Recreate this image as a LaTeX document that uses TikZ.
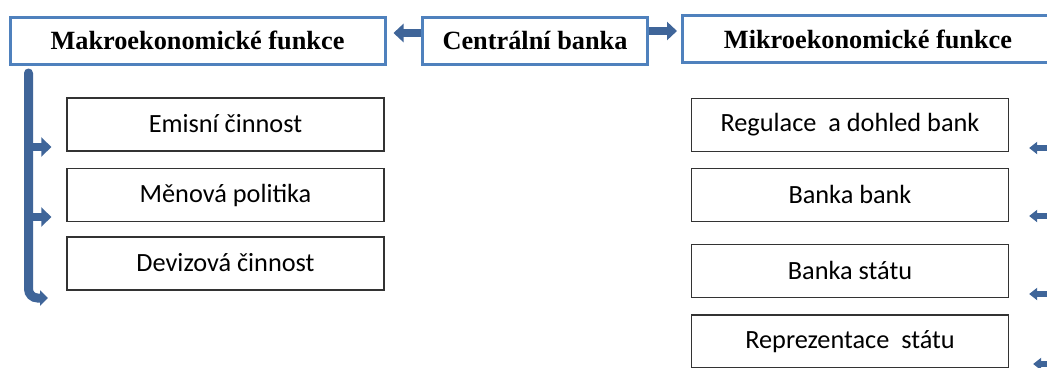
\documentclass[tikz,border=0pt]{standalone}
\usepackage{fontspec}
\setmainfont{Liberation Serif}
\newfontfamily\bodyfont{Carlito}
\usetikzlibrary{arrows.meta}
\definecolor{hdrblue}{HTML}{4F81BD}
\definecolor{arrblue}{HTML}{3F6599}
\tikzset{
  hdrbox/.style={draw=hdrblue, line width=3pt, fill=white, minimum height=47pt,
    font=\fontsize{26.3}{30}\selectfont\bfseries, inner sep=0pt},
  itembox/.style={draw=black!80, line width=1.3pt, fill=white, minimum width=317pt,
    minimum height=53pt, font=\bodyfont\fontsize{26.3}{30}\selectfont, inner sep=0pt},
  toparrow/.style={draw=arrblue, line width=8pt, -{Triangle[length=10pt, width=18pt]}},
  bararrow/.style={draw=arrblue, line width=9pt, line cap=round, rounded corners=9pt,
    -{Triangle[length=8pt, width=15pt]}},
  branch/.style={draw=arrblue, line width=8pt, -{Triangle[length=10pt, width=19pt]}},
  rarrow/.style={draw=arrblue, line width=6pt, -{Triangle[length=8pt, width=12pt]}}
}
\begin{document}
\begin{tikzpicture}[x=1pt, y=-1pt]
\useasboundingbox (0,0) rectangle (1047,367);
\clip (0,0) rectangle (1047,367);
\fill[white] (0,0) rectangle (1047,367);

% header boxes
\node[hdrbox, minimum width=375pt] (makro) at (197.5,40.5) {Makroekonomické funkce};
\node[hdrbox, minimum width=225pt] (cb) at (535,40.5) {Centrální banka};
\node[hdrbox, minimum width=371pt] (mikro) at (868,39) {Mikroekonomické funkce};

% left items
\node[itembox] (emis) at (225.5,124.5) {\raisebox{2pt}{Emisní činnost}};
\node[itembox] (menova) at (225.5,195) {\raisebox{2pt}{Měnová politika}};
\node[itembox] (deviz) at (225.5,263.5) {\raisebox{2pt}{Devizová činnost}};

% right items
\node[itembox] (reg) at (850,125) {\raisebox{2pt}{Regulace\ \ a dohled bank}};
\node[itembox] (bb) at (850,195) {\raisebox{2pt}{Banka bank}};
\node[itembox] (bs) at (850,271) {\raisebox{2pt}{Banka státu}};
\node[itembox] (rep) at (850,341.5) {\raisebox{2pt}{Reprezentace\ \ státu}};

% arrows from central bank
\draw[toparrow, shorten >=7pt] ([yshift=7.5pt]cb.west) -- ([yshift=7.5pt]cb.west -| makro.east);
\draw[toparrow, shorten >=4pt] ([yshift=9.5pt]cb.east) -- ([yshift=9.5pt]cb.east -| mikro.west);

% left bar
\coordinate (ltop) at (28.5,73);
\coordinate (lend) at (48,298);
\coordinate (lb1) at (28.5,147);
\coordinate (lb2) at (28.5,217);
\draw[bararrow] (ltop) |- (lend);
\draw[branch, shorten >=15pt] (lb1) -- (lb1 -| emis.west);
\draw[branch, shorten >=15pt] (lb2) -- (lb2 -| menova.west);

% right arrows
\coordinate (rb1) at (1060,148);
\coordinate (rb2) at (1060,216);
\coordinate (rb3) at (1060,294);
\coordinate (rb4) at (1060,364);
\draw[rarrow, shorten >=20pt] (rb1) -- (rb1 -| reg.east);
\draw[rarrow, shorten >=20pt] (rb2) -- (rb2 -| bb.east);
\draw[rarrow, shorten >=20pt] (rb3) -- (rb3 -| bs.east);
\draw[rarrow, shorten >=24pt] (rb4) -- (rb4 -| rep.east);
\end{tikzpicture}
\end{document}
